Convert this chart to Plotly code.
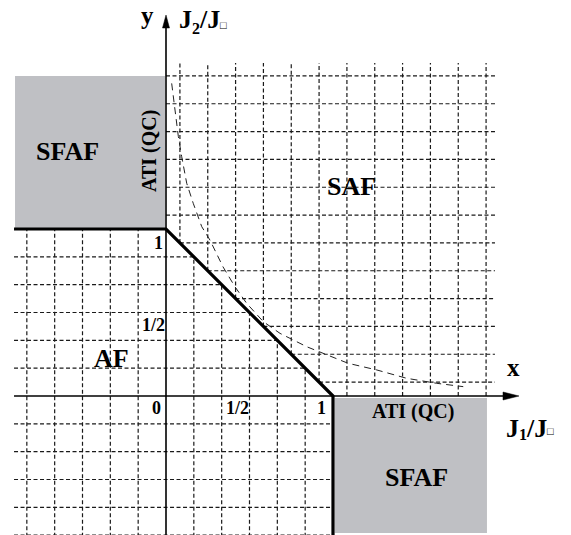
import plotly.graph_objects as go

# ---------------- data ----------------
GRID_STEP = 1 / 6
af_grid_k = [-5, -4, -3, -2, -1, 1, 2, 3, 4, 5]          # regular grid in AF region
saf_grid_k = [0.5, 1.5, 2.5, 3.5, 4.5, 5.5, 6.5, 7.5, 8.5, 9.5, 10.5, 11.5]  # offset grid in SAF region

# dashed crossover curve
curve_x = [0.034, 0.054, 0.074, 0.094, 0.124, 0.163, 0.214, 0.263, 0.341, 0.413, 0.483,
           0.583, 0.683, 0.843, 1.000, 1.090, 1.262, 1.441, 1.621, 1.780]
curve_y = [1.872, 1.695, 1.553, 1.433, 1.274, 1.154, 1.014, 0.934, 0.774, 0.654, 0.555,
           0.445, 0.375, 0.295, 0.235, 0.196, 0.156, 0.106, 0.076, 0.056]

# phase boundary (thick line)
boundary_x = [-0.91, 0.0, 1.0, 1.0]
boundary_y = [1.0, 1.0, 0.0, -0.84]

tick_values = [0.0, 0.5, 1.0]
tick_labels = ["0", "1/2", "1"]

# SFAF boxes  [x0, x1, y0, y1]
sfaf_boxes = [[-0.904, -0.006, 1.0, 1.916], [1.010, 1.922, -0.012, -0.820]]

# ---------------- geometry ----------------
W, H = 571, 535
PX = 167.0                      # pixels per unit
OX, OY = 166.0, 396.0           # origin in pixels
X0, X1 = -OX / PX, (W - OX) / PX
Y1 = OY / PX
Y0 = Y1 - H / PX
X_LEFT = -0.91
Y_BOT = Y0 - 0.01
SAF_RIGHT = 1.97
SAF_TOP = 1.994


def dx(px):
    return (px - OX) / PX


def dy(py):
    return (OY - py) / PX


fig = go.Figure()

GRID_STYLE = dict(color="#1a1a1a", width=1.2, dash="4px,2.5px")

# AF-region grid
gx, gy = [], []
for k in af_grid_k:
    x = k * GRID_STEP
    top = 1.0 if x < 0 else 1.0 - x
    gx += [x, x, None]
    gy += [Y_BOT, top, None]
for k in af_grid_k:
    y = k * GRID_STEP
    right = 1.0 if y < 0 else 1.0 - y
    gx += [X_LEFT, right, None]
    gy += [y, y, None]
fig.add_trace(go.Scatter(x=gx, y=gy, mode="lines", line=GRID_STYLE, hoverinfo="skip", showlegend=False))

# SAF-region grid
sx, sy = [], []
for k in saf_grid_k:
    x = k * GRID_STEP
    sx += [x, x, None]
    sy += [max(1.0 - x, 0.0), SAF_TOP, None]
for k in saf_grid_k:
    y = k * GRID_STEP
    sx += [max(1.0 - y, 0.0), SAF_RIGHT, None]
    sy += [y, y, None]
fig.add_trace(go.Scatter(x=sx, y=sy, mode="lines", line=GRID_STYLE, hoverinfo="skip", showlegend=False))

# dashed curve
fig.add_trace(go.Scatter(x=curve_x, y=curve_y, mode="lines",
                         line=dict(color="#222", width=1.0, dash="7px,5px"),
                         hoverinfo="skip", showlegend=False))

# axes lines
AX_W = 1.6
yarrow_tip, yarrow_base, yarrow_hw = dy(15), dy(28), 3.5 / PX
xarrow_tip, xarrow_base, xarrow_hh = dx(519), dx(503), 4.0 / PX
fig.add_trace(go.Scatter(x=[0, 0], y=[Y_BOT, yarrow_base + 0.01], mode="lines",
                         line=dict(color="black", width=AX_W), hoverinfo="skip", showlegend=False))
fig.add_trace(go.Scatter(x=[X_LEFT, xarrow_base + 0.01], y=[0, 0], mode="lines",
                         line=dict(color="black", width=AX_W), hoverinfo="skip", showlegend=False))
# thick boundary
fig.add_trace(go.Scatter(x=boundary_x, y=boundary_y, mode="lines",
                         line=dict(color="black", width=3.2), hoverinfo="skip", showlegend=False))

shapes = []
for bx0, bx1, by0, by1 in sfaf_boxes:
    shapes.append(dict(type="rect", xref="x", yref="y", x0=bx0, x1=bx1, y0=by0, y1=by1,
                       fillcolor="#bfc0c4", line=dict(width=0), layer="below"))
shapes.append(dict(type="path", xref="x", yref="y",
                   path=f"M {-yarrow_hw} {yarrow_base} L 0 {yarrow_tip} L {yarrow_hw} {yarrow_base} Z",
                   fillcolor="black", line=dict(color="black", width=0.5)))
shapes.append(dict(type="path", xref="x", yref="y",
                   path=f"M {xarrow_base} {-xarrow_hh} L {xarrow_tip} 0 L {xarrow_base} {xarrow_hh} Z",
                   fillcolor="black", line=dict(color="black", width=0.5)))

FONT = "Liberation Serif, Times New Roman, serif"
ann = []


def txt(x, y, s, size, xanchor="center", yanchor="middle", angle=0):
    ann.append(dict(x=x, y=y, xref="x", yref="y", text=s, showarrow=False,
                    xanchor=xanchor, yanchor=yanchor, textangle=angle, borderpad=0,
                    font=dict(family=FONT, size=size, color="black", weight="bold")))


# region labels
txt(-0.587, 1.467, "SFAF", 26)
txt(1.497, -0.488, "SFAF", 26)
txt(1.108, 1.257, "SAF", 26)
txt(-0.329, 0.222, "AF", 26)
txt(-0.102, 1.467, "ATI (QC)", 20, angle=-90)
txt(1.479, -0.093, "ATI (QC)", 20)

# tick labels
txt(-0.056, -0.069, tick_labels[0], 18)
txt(tick_values[1] - 0.072, -0.069, tick_labels[1], 18)
txt(tick_values[2] - 0.066, -0.069, tick_labels[2], 18)
txt(-0.072, tick_values[1] - 0.075, tick_labels[1], 18)
txt(-0.046, tick_values[2] - 0.081, tick_labels[2], 18)

# axis names
txt(dx(147), dy(15), "y", 25)
txt(dx(513), dy(367), "x", 25)
# J2/J□  (pieces placed side by side)
txt(dx(185), dy(19), "J", 26)
txt(dx(195.6), dy(28), "2", 16)
txt(dx(209.8), dy(19), "/J", 26)
txt(dx(223.8), dy(25), "□", 11)
# J1/J□
txt(dx(512), dy(428), "J", 26)
txt(dx(522.6), dy(434), "1", 16)
txt(dx(536.8), dy(428), "/J", 26)
txt(dx(550.8), dy(431), "□", 11)

fig.update_layout(
    width=W, height=H, autosize=False,
    margin=dict(l=0, r=0, t=0, b=0),
    paper_bgcolor="white", plot_bgcolor="white",
    xaxis=dict(range=[X0, X1], visible=False, fixedrange=True),
    yaxis=dict(range=[Y0, Y1], visible=False, fixedrange=True),
    shapes=shapes, annotations=ann, showlegend=False,
)

fig.write_html("out.html", config={"displayModeBar": False},
               post_script="document.body.style.margin='0';document.body.style.overflow='hidden';")
